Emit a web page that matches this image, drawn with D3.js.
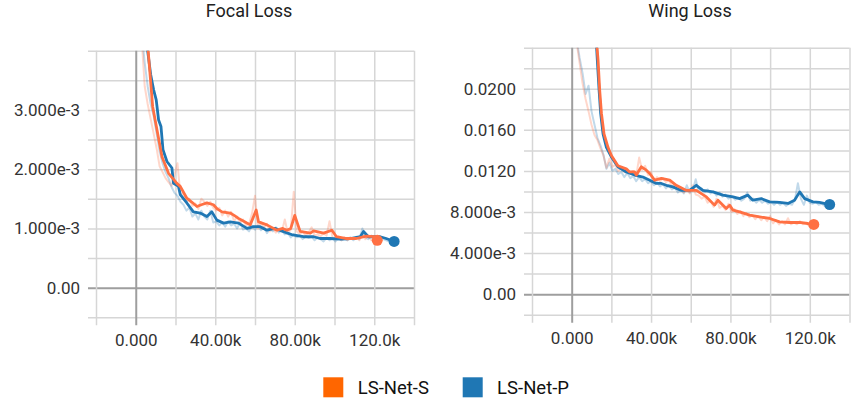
<!DOCTYPE html>
<html>
<head>
<meta charset="utf-8">
<script src="https://cdn.jsdelivr.net/npm/d3@7"></script>
<style>
  body { margin: 0; background: #fff; }
  svg { display: block; font-family: Roboto, "Liberation Sans", Arial, sans-serif; }
</style>
</head>
<body>
<div id="chart-area"></div>
<script>
// ---- data (steps in thousands, losses as plotted) ----
const seriesNames = ["LS-Net-S", "LS-Net-P"]

// Focal Loss, smoothed
const focalSSteps = [6, 7.3, 8.5, 10.7, 13.2, 16.5, 18.5, 20.7, 22.4, 25.7, 28, 30.8, 33, 35.8, 39.1, 41, 43.4, 47.5, 49.5, 51.7, 55, 57.6, 60.6, 61.8, 66, 71, 74, 76, 78, 80, 82.7, 87.8, 89.5, 94.5, 98.7, 101, 106, 111, 116, 120, 121.5]
const focalSVals = [4.1e-3, 3.56e-3, 3.06e-3, 2.66e-3, 2.21e-3, 1.93e-3, 1.85e-3, 1.76e-3, 1.71e-3, 1.51e-3, 1.45e-3, 1.37e-3, 1.40e-3, 1.43e-3, 1.40e-3, 1.33e-3, 1.28e-3, 1.26e-3, 1.22e-3, 1.17e-3, 1.11e-3, 1.06e-3, 1.31e-3, 1.11e-3, 1.06e-3, 0.97e-3, 1.0e-3, 0.97e-3, 1.0e-3, 1.22e-3, 0.95e-3, 0.92e-3, 0.96e-3, 0.92e-3, 0.97e-3, 0.86e-3, 0.83e-3, 0.83e-3, 0.87e-3, 0.86e-3, 0.80e-3]
const focalPSteps = [5.6, 7.5, 9, 10.3, 11.5, 12.7, 13.7, 15.7, 18.2, 19, 21.5, 22.4, 25.7, 29, 32.4, 35.8, 38.3, 40.8, 44.2, 47.5, 51.7, 56, 59.3, 62.6, 66, 70, 74, 79, 84.4, 89.5, 92.8, 97.8, 103, 108, 113, 114.6, 117, 123, 126, 130]
const focalPVals = [4.1e-3, 3.6e-3, 3.34e-3, 3.17e-3, 2.83e-3, 2.72e-3, 2.33e-3, 2.13e-3, 2.02e-3, 1.76e-3, 1.71e-3, 1.57e-3, 1.43e-3, 1.28e-3, 1.26e-3, 1.20e-3, 1.28e-3, 1.14e-3, 1.09e-3, 1.11e-3, 1.09e-3, 1.0e-3, 1.03e-3, 1.03e-3, 0.97e-3, 1.0e-3, 0.95e-3, 0.89e-3, 0.86e-3, 0.86e-3, 0.83e-3, 0.83e-3, 0.82e-3, 0.83e-3, 0.86e-3, 0.95e-3, 0.86e-3, 0.86e-3, 0.83e-3, 0.78e-3]

// Focal Loss, raw (faint)
const focalSRawSteps = [3, 4.5, 6, 7.5, 9, 10.5, 12, 13.5, 15, 16.5, 18, 19.5, 21, 22.5, 24, 25.5, 27, 28.5, 30, 31.5, 33, 34.5, 36, 37.5, 39, 40.5, 42, 43.5, 45, 46.5, 48, 49.5, 51, 52.5, 54, 55.5, 57, 58.5, 60, 61.5, 63, 64.5, 66, 67.5, 69, 70.5, 72, 73.5, 75, 76.5, 78, 79.5, 81, 82.5, 84, 85.5, 87, 88.5, 90, 91.5, 93, 94.5, 96, 97.5, 99, 100.5, 102, 103.5, 105, 106.5, 108, 109.5, 111, 112.5, 114, 115.5, 117, 118.5, 120, 121.5]
const focalSRawVals = [4.2e-3, 3.4e-3, 3.1e-3, 2.85e-3, 2.6e-3, 2.35e-3, 2.05e-3, 1.95e-3, 1.85e-3, 1.78e-3, 1.72e-3, 1.9e-3, 2.1e-3, 1.55e-3, 1.6e-3, 1.45e-3, 1.5e-3, 1.38e-3, 1.42e-3, 1.33e-3, 1.5e-3, 1.45e-3, 1.38e-3, 1.45e-3, 1.35e-3, 1.3e-3, 1.35e-3, 1.22e-3, 1.3e-3, 1.2e-3, 1.28e-3, 1.12e-3, 1.2e-3, 1.1e-3, 1.15e-3, 1.05e-3, 1.08e-3, 1.25e-3, 1.55e-3, 1.0e-3, 1.1e-3, 1.0e-3, 1.08e-3, 0.95e-3, 1.0e-3, 0.93e-3, 0.98e-3, 0.95e-3, 1.15e-3, 0.92e-3, 0.98e-3, 1.62e-3, 0.95e-3, 0.9e-3, 0.95e-3, 0.88e-3, 0.93e-3, 1.02e-3, 0.88e-3, 0.9e-3, 0.87e-3, 0.92e-3, 0.88e-3, 1.12e-3, 0.85e-3, 0.82e-3, 0.86e-3, 0.8e-3, 0.85e-3, 0.8e-3, 0.84e-3, 0.82e-3, 0.85e-3, 0.8e-3, 0.9e-3, 0.82e-3, 0.88e-3, 0.8e-3, 0.85e-3, 0.78e-3]
const focalPRawSteps = [3, 4.5, 6, 7.5, 9, 10.5, 12, 13.5, 15, 16.5, 18, 19.5, 21, 22.5, 24, 25.5, 27, 28.5, 30, 31.5, 33, 34.5, 36, 37.5, 39, 40.5, 42, 43.5, 45, 46.5, 48, 49.5, 51, 52.5, 54, 55.5, 57, 58.5, 60, 61.5, 63, 64.5, 66, 67.5, 69, 70.5, 72, 73.5, 75, 76.5, 78, 79.5, 81, 82.5, 84, 85.5, 87, 88.5, 90, 91.5, 93, 94.5, 96, 97.5, 99, 100.5, 102, 103.5, 105, 106.5, 108, 109.5, 111, 112.5, 114, 115.5, 117, 118.5, 120, 121.5, 123, 124.5, 126, 127.5, 129, 130]
const focalPRawVals = [4.3e-3, 3.8e-3, 3.4e-3, 3.1e-3, 2.9e-3, 2.6e-3, 2.3e-3, 2.1e-3, 1.95e-3, 1.85e-3, 1.7e-3, 1.6e-3, 1.55e-3, 1.45e-3, 1.4e-3, 1.3e-3, 1.35e-3, 1.2e-3, 1.25e-3, 1.15e-3, 1.3e-3, 1.2e-3, 1.15e-3, 1.3e-3, 1.1e-3, 1.12e-3, 1.05e-3, 1.1e-3, 1.03e-3, 1.12e-3, 1.05e-3, 1.08e-3, 1.0e-3, 1.1e-3, 0.98e-3, 1.0e-3, 0.95e-3, 1.05e-3, 0.98e-3, 1.05e-3, 0.97e-3, 1.02e-3, 0.92e-3, 1.0e-3, 0.95e-3, 1.02e-3, 0.93e-3, 0.97e-3, 0.9e-3, 0.92e-3, 0.85e-3, 0.9e-3, 0.85e-3, 0.88e-3, 0.82e-3, 0.87e-3, 0.84e-3, 0.86e-3, 0.8e-3, 0.85e-3, 0.82e-3, 0.78e-3, 0.84e-3, 0.8e-3, 0.83e-3, 0.78e-3, 0.84e-3, 0.8e-3, 0.82e-3, 0.8e-3, 0.85e-3, 0.8e-3, 0.86e-3, 0.82e-3, 1.0e-3, 0.85e-3, 0.82e-3, 0.88e-3, 0.84e-3, 0.8e-3, 0.86e-3, 0.82e-3, 0.8e-3, 0.78e-3, 0.8e-3, 0.77e-3]

// Wing Loss, smoothed
const wingSSteps = [12.7, 13.3, 14.1, 15, 16.3, 18.3, 20, 23.3, 27.5, 29.2, 31.7, 32.6, 35.1, 37.6, 39.3, 41.8, 45.2, 49.4, 52.7, 57.8, 62.8, 67.9, 72, 73.7, 77.9, 79.6, 81.3, 84.6, 89.7, 94.7, 99.8, 104.8, 109.8, 114.9, 119, 122]
const wingSVals = [24.2e-3, 22.8e-3, 19.9e-3, 17.6e-3, 15.6e-3, 14.3e-3, 13.5e-3, 12.5e-3, 12.2e-3, 11.9e-3, 11.9e-3, 11.6e-3, 12.4e-3, 12.07e-3, 11.75e-3, 11.1e-3, 11.27e-3, 11.1e-3, 10.6e-3, 10.1e-3, 10.1e-3, 9.47e-3, 8.67e-3, 9.15e-3, 8.34e-3, 8.67e-3, 8.18e-3, 8.01e-3, 7.69e-3, 7.53e-3, 7.37e-3, 7.04e-3, 6.98e-3, 6.98e-3, 6.88e-3, 6.79e-3]
const wingPSteps = [12.5, 13, 13.8, 14.6, 15.8, 17.5, 20, 23.3, 27.5, 31.7, 35.9, 39.3, 42.7, 45.2, 47.7, 51, 55.3, 59.4, 62.8, 66.1, 71.2, 76.2, 81.3, 84.6, 88.8, 91.3, 95.6, 99.8, 104.8, 109, 112.3, 114.9, 117.4, 121.6, 124.9, 130]
const wingPVals = [24.2e-3, 22.5e-3, 19.9e-3, 17.6e-3, 15.6e-3, 14.3e-3, 13.37e-3, 12.4e-3, 11.9e-3, 11.6e-3, 11.4e-3, 11.1e-3, 10.78e-3, 10.78e-3, 10.6e-3, 10.45e-3, 10.1e-3, 10.1e-3, 10.6e-3, 10.1e-3, 9.96e-3, 9.64e-3, 9.47e-3, 9.3e-3, 9.64e-3, 9.15e-3, 9.3e-3, 8.99e-3, 8.93e-3, 8.83e-3, 9.15e-3, 9.96e-3, 9.3e-3, 8.99e-3, 8.93e-3, 8.73e-3]

// Wing Loss, raw (faint)
const wingSRawSteps = [2.5, 4, 5.5, 7, 8.5, 10, 11.5, 13, 14.5, 16, 17.5, 19, 20.5, 22, 23.5, 25, 26.5, 28, 29.5, 31, 32.5, 34, 35.5, 37, 38.5, 40, 41.5, 43, 44.5, 46, 47.5, 49, 50.5, 52, 53.5, 55, 56.5, 58, 59.5, 61, 62.5, 64, 65.5, 67, 68.5, 70, 71.5, 73, 74.5, 76, 77.5, 79, 80.5, 82, 83.5, 85, 86.5, 88, 89.5, 91, 92.5, 94, 95.5, 97, 98.5, 100, 101.5, 103, 104.5, 106, 107.5, 109, 110.5, 112, 113.5, 115, 116.5, 118, 119.5, 121, 122]
const wingSRawVals = [24.5e-3, 22.5e-3, 20.5e-3, 19e-3, 17.8e-3, 16.5e-3, 15.5e-3, 15e-3, 14.2e-3, 13.5e-3, 12.3e-3, 13.2e-3, 12.4e-3, 12.6e-3, 12.0e-3, 12.3e-3, 11.9e-3, 12.2e-3, 11.8e-3, 12.0e-3, 11.5e-3, 13.3e-3, 12.1e-3, 12.5e-3, 11.6e-3, 11.9e-3, 10.9e-3, 11.4e-3, 11.0e-3, 11.3e-3, 10.9e-3, 11.1e-3, 10.5e-3, 10.7e-3, 10.2e-3, 10.4e-3, 9.9e-3, 10.2e-3, 9.8e-3, 10.6e-3, 9.7e-3, 9.6e-3, 9.3e-3, 9.5e-3, 8.9e-3, 9.1e-3, 8.5e-3, 9.3e-3, 8.4e-3, 8.6e-3, 8.2e-3, 8.8e-3, 8.0e-3, 8.3e-3, 7.8e-3, 8.1e-3, 7.6e-3, 7.9e-3, 7.5e-3, 7.7e-3, 7.3e-3, 7.6e-3, 7.2e-3, 7.5e-3, 7.1e-3, 7.6e-3, 6.9e-3, 7.2e-3, 6.8e-3, 7.1e-3, 6.8e-3, 7.4e-3, 6.8e-3, 7.0e-3, 6.8e-3, 7.1e-3, 6.8e-3, 6.9e-3, 6.7e-3, 6.9e-3, 6.7e-3]
const wingPRawSteps = [2.5, 4, 5.5, 7, 8.5, 10, 11.5, 13, 14.5, 16, 17.5, 19, 20.5, 22, 23.5, 25, 26.5, 28, 29.5, 31, 32.5, 34, 35.5, 37, 38.5, 40, 41.5, 43, 44.5, 46, 47.5, 49, 50.5, 52, 53.5, 55, 56.5, 58, 59.5, 61, 62.5, 64, 65.5, 67, 68.5, 70, 71.5, 73, 74.5, 76, 77.5, 79, 81, 82.5, 84, 85.5, 87, 88.5, 90, 91.5, 93, 94.5, 96, 97.5, 99, 100.5, 102, 103.5, 105, 106.5, 108, 109.5, 111, 112.5, 114, 115.5, 117, 118.5, 120, 121.5, 123, 124.5, 126, 127.5, 129, 130]
const wingPRawVals = [24.8e-3, 23e-3, 21.5e-3, 19.5e-3, 20.3e-3, 17.8e-3, 16.5e-3, 15.2e-3, 14.5e-3, 13.6e-3, 12.2e-3, 12.8e-3, 12.0e-3, 12.2e-3, 11.7e-3, 11.9e-3, 11.4e-3, 11.8e-3, 11.3e-3, 11.5e-3, 11.0e-3, 11.4e-3, 11.0e-3, 11.2e-3, 10.8e-3, 11.0e-3, 10.6e-3, 10.9e-3, 10.5e-3, 10.7e-3, 10.3e-3, 10.6e-3, 10.2e-3, 10.4e-3, 9.9e-3, 10.2e-3, 9.8e-3, 10.6e-3, 9.9e-3, 10.1e-3, 11.2e-3, 10.0e-3, 10.3e-3, 9.9e-3, 10.2e-3, 9.8e-3, 10.0e-3, 9.6e-3, 9.9e-3, 9.5e-3, 9.7e-3, 9.3e-3, 9.5e-3, 9.2e-3, 9.4e-3, 9.1e-3, 9.3e-3, 9.9e-3, 9.1e-3, 9.3e-3, 8.9e-3, 9.2e-3, 8.9e-3, 9.1e-3, 8.8e-3, 9.0e-3, 8.7e-3, 9.0e-3, 8.7e-3, 8.9e-3, 8.6e-3, 8.8e-3, 8.7e-3, 9.2e-3, 10.8e-3, 9.3e-3, 8.7e-3, 9.6e-3, 8.9e-3, 8.8e-3, 9.0e-3, 8.7e-3, 8.8e-3, 8.6e-3, 8.8e-3, 8.7e-3]

// ---- axes ticks ----
const xGrid = [-20, 0, 20, 40, 60, 80, 100, 120, 140]
const xLabels = [[0, "0.000"], [40, "40.00k"], [80, "80.00k"], [120, "120.0k"]]
const focalYGrid = [-0.5e-3, 0, 0.5e-3, 1e-3, 1.5e-3, 2e-3, 2.5e-3, 3e-3, 3.5e-3, 4e-3]
const focalYLabels = [[0, "0.00"], [1e-3, "1.000e-3"], [2e-3, "2.000e-3"], [3e-3, "3.000e-3"]]
const wingYGrid = [-2e-3, 0, 2e-3, 4e-3, 6e-3, 8e-3, 10e-3, 12e-3, 14e-3, 16e-3, 18e-3, 20e-3, 22e-3, 24e-3]
const wingYLabels = [[0, "0.00"], [4e-3, "4.000e-3"], [8e-3, "8.000e-3"], [12e-3, "0.0120"], [16e-3, "0.0160"], [20e-3, "0.0200"]]

const COLORS = { S: "#ff7043", P: "#1f77b4" }
const LEGEND_COLORS = ["#ff6600", "#1f77b4"]

const svg = d3.select("#chart-area").append("svg")
  .attr("width", 865)
  .attr("height", 398)

function zip(steps, vals) {
  return steps.map((s, i) => ({ step: s, value: vals[i] }))
}

function panel(cfg) {
  const W = cfg.right - cfg.left
  const H = cfg.bottom - cfg.top
  const g = svg.append("g").attr("transform", `translate(${cfg.left}, ${cfg.top})`)

  const x = d3.scaleLinear().domain([-20, 140]).range([0, W])
  const y = d3.scaleLinear().domain(cfg.yDomain).range([H, 0])

  const yLab = new Map(cfg.yLabels)
  const xLab = new Map(xLabels)

  // Y grid + labels
  const yAxis = g.append("g")
    .attr("transform", "translate(-8, 0)")
    .call(d3.axisLeft(y).tickValues(cfg.yGrid).tickSize(-(W + 8)).tickPadding(8)
      .tickFormat(d => yLab.get(d) || ""))
  // X grid + labels
  const xAxis = g.append("g")
    .attr("transform", `translate(0, ${H + 8})`)
    .call(d3.axisBottom(x).tickValues(xGrid).tickSize(-(H + 8)).tickPadding(9)
      .tickFormat(d => xLab.get(d) || ""))

  ;[yAxis, xAxis].forEach(ax => {
    ax.select(".domain").remove()
    ax.selectAll(".tick line")
      .attr("stroke", d => d === 0 ? "#9e9e9e" : "#d6d6d6")
      .attr("stroke-width", d => d === 0 ? 2 : 1.5)
    ax.selectAll(".tick text")
      .attr("fill", "#333")
      .attr("font-size", "17px")
      .attr("font-family", "Roboto, 'Liberation Sans', Arial, sans-serif")
  })
  // keep zero lines on top of the other grid lines
  yAxis.selectAll(".tick").filter(d => d === 0).raise()
  xAxis.selectAll(".tick").filter(d => d === 0).raise()

  // title
  svg.append("text")
    .attr("x", cfg.titleX)
    .attr("y", 17)
    .attr("text-anchor", "middle")
    .attr("font-size", "18px")
    .attr("fill", "#212121")
    .text(cfg.title)

  const clipId = "clip-" + cfg.id
  g.append("clipPath").attr("id", clipId)
    .append("rect").attr("width", W).attr("height", H)

  const plot = g.append("g").attr("clip-path", `url(#${clipId})`)
  const line = d3.line().x(d => x(d.step)).y(d => y(d.value))

  // faint raw lines
  cfg.raw.forEach(s => {
    plot.append("path")
      .datum(s.data)
      .attr("fill", "none")
      .attr("stroke", s.color)
      .attr("stroke-opacity", 0.28)
      .attr("stroke-width", 2)
      .attr("stroke-linejoin", "round")
      .attr("d", line)
  })
  // smoothed lines
  cfg.smooth.forEach(s => {
    plot.append("path")
      .datum(s.data)
      .attr("fill", "none")
      .attr("stroke", s.color)
      .attr("stroke-width", 2.8)
      .attr("stroke-linejoin", "round")
      .attr("d", line)
  })
  // end dots
  cfg.smooth.forEach(s => {
    const last = s.data[s.data.length - 1]
    g.append("circle")
      .attr("cx", x(last.step))
      .attr("cy", y(last.value))
      .attr("r", 5.5)
      .attr("fill", s.color)
  })
}

panel({
  id: "focal", title: "Focal Loss", titleX: 249,
  left: 96, right: 414, top: 50.7, bottom: 317.3,
  yDomain: [-0.5e-3, 4e-3], yGrid: focalYGrid, yLabels: focalYLabels,
  raw: [
    { color: COLORS.P, data: zip(focalPRawSteps, focalPRawVals) },
    { color: COLORS.S, data: zip(focalSRawSteps, focalSRawVals) }
  ],
  smooth: [
    { color: COLORS.P, data: zip(focalPSteps, focalPVals) },
    { color: COLORS.S, data: zip(focalSSteps, focalSVals) }
  ]
})

panel({
  id: "wing", title: "Wing Loss", titleX: 690,
  left: 532, right: 849.5, top: 47.7, bottom: 314.7,
  yDomain: [-2e-3, 24e-3], yGrid: wingYGrid, yLabels: wingYLabels,
  raw: [
    { color: COLORS.P, data: zip(wingPRawSteps, wingPRawVals) },
    { color: COLORS.S, data: zip(wingSRawSteps, wingSRawVals) }
  ],
  smooth: [
    { color: COLORS.P, data: zip(wingPSteps, wingPVals) },
    { color: COLORS.S, data: zip(wingSSteps, wingSVals) }
  ]
})

// legend
const legendX = [323.3, 462.7]
const legend = svg.append("g")
seriesNames.forEach((name, i) => {
  legend.append("rect")
    .attr("x", legendX[i]).attr("y", 377.3)
    .attr("width", 20).attr("height", 20)
    .attr("fill", LEGEND_COLORS[i])
  legend.append("text")
    .attr("x", legendX[i] + 34.4)
    .attr("y", 393.5)
    .attr("font-size", "18.5px")
    .attr("fill", "#111")
    .text(name)
})
</script>
</body>
</html>
